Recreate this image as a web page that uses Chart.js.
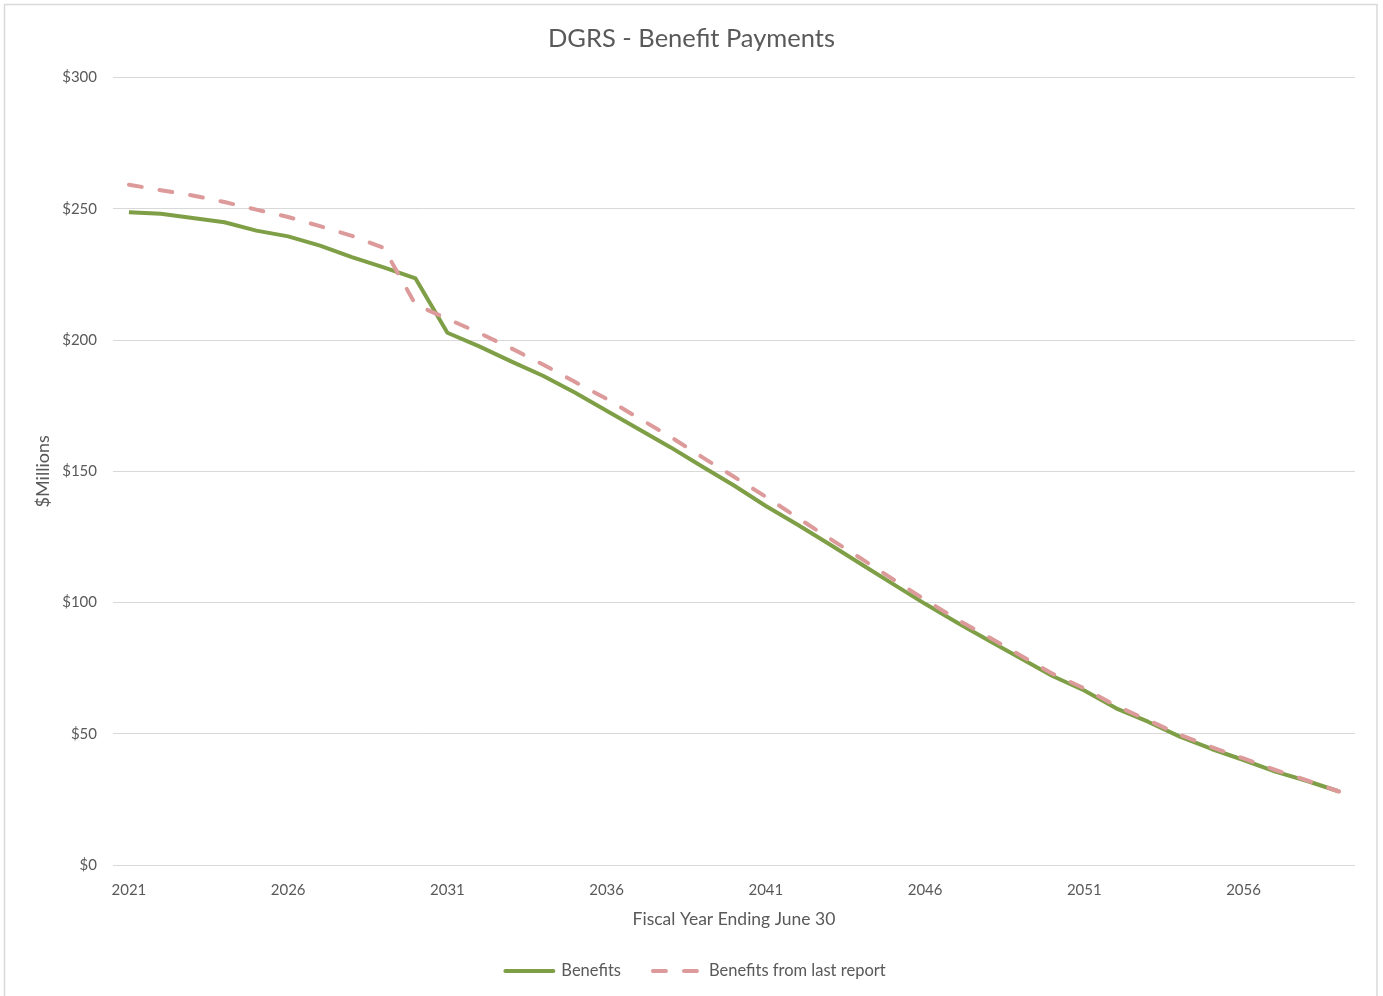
<!DOCTYPE html>
<html>
<head>
<meta charset="utf-8">
<title>DGRS - Benefit Payments</title>
<script src="https://cdn.jsdelivr.net/npm/chart.js@4.4.1/dist/chart.umd.min.js"></script>
<style>
  html, body { margin: 0; padding: 0; background: #ffffff; }
  #wrap { position: relative; width: 1383px; height: 996px; }
</style>
</head>
<body>
<div id="wrap"><canvas id="chart"></canvas></div>
<script>
// Fiscal years ending June 30
const years = [
  2021, 2022, 2023, 2024, 2025, 2026, 2027, 2028, 2029, 2030,
  2031, 2032, 2033, 2034, 2035, 2036, 2037, 2038, 2039, 2040,
  2041, 2042, 2043, 2044, 2045, 2046, 2047, 2048, 2049, 2050,
  2051, 2052, 2053, 2054, 2055, 2056, 2057, 2058, 2059
];

// Projected benefit payments, $ millions
const benefits = [
  248.7, 248.1, 246.5, 244.9, 241.7, 239.5, 236.0, 231.6, 227.7, 223.5,
  202.8, 197.6, 191.9, 186.4, 180.0, 173.1, 166.1, 159.2, 151.8, 144.6,
  136.8, 129.6, 122.2, 114.6, 107.0, 99.5, 92.4, 85.5, 78.8, 72.0,
  66.5, 59.7, 54.6, 48.9, 44.2, 40.0, 35.6, 32.0, 28.0
];

// Projection from the previous report, $ millions
const lastReport = [
  259.2, 257.1, 255.1, 252.6, 249.7, 246.9, 243.4, 239.7, 235.1, 213.5,
  208.1, 202.7, 196.9, 190.7, 184.1, 177.6, 170.3, 163.2, 155.4, 147.9,
  140.3, 132.3, 124.4, 116.7, 108.8, 101.1, 93.6, 86.8, 79.8, 72.9,
  67.3, 60.6, 55.2, 49.6, 44.9, 40.6, 36.2, 32.2, 28.0
];

const seriesNames = ['Benefits', 'Benefits from last report'];
const yTicks = [0, 50, 100, 150, 200, 250, 300];
const xLabelEvery = 5;

const FONT = 'Lato, "Open Sans", "DejaVu Sans", sans-serif';
const TEXT = '#595959';
const GRID = '#d9d9d9';
const GREEN = '#7f9f47';
const PINK = '#dc9a9a';
const PINK_DASH = [13, 18];

// white background and thin outer frame
const framePlugin = {
  id: 'frame',
  beforeDraw(chart) {
    const ctx = chart.ctx;
    ctx.save();
    ctx.fillStyle = '#ffffff';
    ctx.fillRect(0, 0, chart.width, chart.height);
    ctx.strokeStyle = GRID;
    ctx.lineWidth = 1.5;
    ctx.strokeRect(4.5, 4.5, 1372.5, 1010);
    ctx.restore();
  }
};

// legend row under the axis title: line sample followed by series name
const legendRow = {
  id: 'legendRow',
  afterDraw(chart) {
    const ctx = chart.ctx;
    const fontSize = 16.5;
    const sample = 52;
    const textGap = 6;
    const itemGap = 30;
    const y = 971;
    ctx.save();
    ctx.font = fontSize + 'px ' + FONT;
    const items = chart.data.datasets.map(ds => ({
      ds,
      w: sample + textGap + ctx.measureText(ds.label).width
    }));
    const total = items.reduce((s, it) => s + it.w, 0) + itemGap * (items.length - 1);
    let x = chart.width / 2 + 3 - total / 2;
    items.forEach(it => {
      ctx.beginPath();
      ctx.strokeStyle = it.ds.borderColor;
      ctx.lineWidth = 4;
      ctx.lineCap = 'round';
      ctx.setLineDash(it.ds.borderDash || []);
      ctx.moveTo(x + 2, y);
      ctx.lineTo(x + sample - 2, y);
      ctx.stroke();
      ctx.setLineDash([]);
      ctx.fillStyle = TEXT;
      ctx.textBaseline = 'middle';
      ctx.textAlign = 'left';
      ctx.fillText(it.ds.label, x + sample + textGap, y);
      x += it.w + itemGap;
    });
    ctx.restore();
  }
};

new Chart(document.getElementById('chart'), {
  type: 'line',
  data: {
    labels: years,
    datasets: [
      {
        label: seriesNames[0],
        data: benefits,
        borderColor: GREEN,
        backgroundColor: GREEN,
        borderWidth: 4,
        pointRadius: 0,
        tension: 0,
        borderJoinStyle: 'round',
        order: 2
      },
      {
        label: seriesNames[1],
        data: lastReport,
        borderColor: PINK,
        backgroundColor: PINK,
        borderWidth: 4,
        borderDash: PINK_DASH,
        borderCapStyle: 'round',
        pointRadius: 0,
        tension: 0,
        order: 1
      }
    ]
  },
  options: {
    responsive: true,
    maintainAspectRatio: false,
    animation: false,
    events: [],
    layout: { padding: { left: 28, right: 28, top: 0, bottom: 66.5 } },
    plugins: {
      title: {
        display: true,
        text: 'DGRS - Benefit Payments',
        color: TEXT,
        font: { family: FONT, size: 25.5, weight: 'normal' },
        padding: { top: 23, bottom: 24 }
      },
      legend: { display: false },
      tooltip: { enabled: false }
    },
    scales: {
      x: {
        offset: true,
        grid: { display: false },
        border: { display: false },
        ticks: {
          autoSkip: false,
          maxRotation: 0,
          color: TEXT,
          font: { family: FONT, size: 15 },
          padding: 8,
          callback: (v, i) => (i % xLabelEvery === 0 ? years[i] : null)
        },
        title: {
          display: true,
          text: 'Fiscal Year Ending June 30',
          color: TEXT,
          font: { family: FONT, size: 17.5 },
          padding: { top: 6, bottom: 0 }
        },
        afterFit(scale) { scale.height = 64.5; }
      },
      y: {
        min: yTicks[0],
        max: yTicks[yTicks.length - 1],
        grid: { color: GRID, lineWidth: 1, drawTicks: false },
        border: { display: false },
        afterBuildTicks(scale) { scale.ticks = yTicks.map(v => ({ value: v })); },
        ticks: {
          color: TEXT,
          font: { family: FONT, size: 15 },
          padding: 16,
          callback: v => '$' + v
        },
        title: {
          display: true,
          text: '$Millions',
          color: TEXT,
          font: { family: FONT, size: 18 },
          padding: { top: 4, bottom: 0 }
        },
        afterFit(scale) { scale.width = 85; }
      }
    }
  },
  plugins: [framePlugin, legendRow]
});
</script>
</body>
</html>
